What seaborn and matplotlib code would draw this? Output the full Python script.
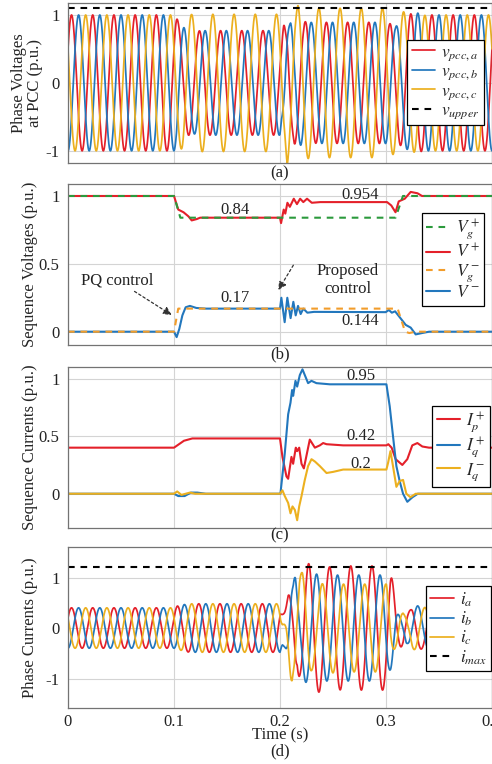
import numpy as np
import matplotlib
matplotlib.use("Agg")
import matplotlib.pyplot as plt
import seaborn as sns

# ---- (b) sequence voltages ----
vg_pos_t = [0, 0.1, 0.106, 0.309, 0.316, 0.4]
vg_pos = [1.0, 1.0, 0.84, 0.84, 1.0, 1.0]

v_pos_t = [0, 0.1, 0.104, 0.109, 0.1136, 0.1167, 0.1215, 0.1246,
           0.2, 0.201, 0.2035, 0.205, 0.207, 0.2093, 0.213, 0.216, 0.219, 0.222, 0.2255, 0.23, 0.238,
           0.301, 0.305, 0.309, 0.312, 0.3177, 0.3233, 0.3297, 0.334, 0.4]
v_pos = [1.0, 1.0, 0.9, 0.88, 0.85, 0.82, 0.83, 0.84,
         0.84, 0.80, 0.90, 0.87, 0.95, 0.92, 0.98, 0.94, 0.98, 0.955, 0.98, 0.95, 0.955,
         0.955, 0.93, 0.88, 0.96, 0.98, 1.03, 1.02, 1.0, 1.0]

vg_neg_t = [0, 0.1, 0.104, 0.311, 0.318, 0.322, 0.328, 0.4]
vg_neg = [0, 0, 0.17, 0.17, 0, -0.01, 0, 0]

v_neg_t = [0, 0.1, 0.1025, 0.105, 0.1079, 0.111, 0.115, 0.121, 0.13,
           0.2, 0.2013, 0.2044, 0.2069, 0.21, 0.2126, 0.2148, 0.217, 0.2195, 0.222, 0.2258, 0.232,
           0.2997, 0.3027, 0.3055, 0.3086, 0.3136, 0.3186, 0.3233, 0.328, 0.334, 0.3407, 0.4]
v_neg = [0, 0, -0.04, 0.02, 0.12, 0.18, 0.19, 0.175, 0.17,
         0.17, 0.25, 0.07, 0.25, 0.10, 0.22, 0.12, 0.19, 0.13, 0.17, 0.14, 0.146,
         0.144, 0.16, 0.14, 0.15, 0.10, 0.05, 0.03, -0.02, -0.01, 0, 0]

# ---- (c) sequence currents ----
ip_pos_t = [0, 0.1, 0.1094, 0.1173,
            0.2, 0.2023, 0.2061, 0.2077, 0.2108, 0.2124, 0.2149, 0.2162, 0.2181, 0.2203, 0.2225,
            0.2281, 0.2329, 0.2376, 0.2407, 0.2439, 0.2596,
            0.3004, 0.3022, 0.3053, 0.3091, 0.3154, 0.3201, 0.3248, 0.3296, 0.3343, 0.3406, 0.4]
ip_pos = [0.4, 0.4, 0.46, 0.48,
          0.48, 0.32, 0.15, 0.13, 0.32, 0.26, 0.40, 0.37, 0.40, 0.26, 0.22,
          0.47, 0.40, 0.42, 0.44, 0.43, 0.42,
          0.42, 0.43, 0.40, 0.30, 0.25, 0.30, 0.42, 0.44, 0.41, 0.40, 0.40]

iq_pos_t = [0, 0.1, 0.104, 0.11, 0.116, 0.122, 0.13,
            0.2004, 0.2045, 0.2077, 0.2099, 0.2114, 0.2124, 0.2146, 0.2162, 0.2187, 0.2212,
            0.2234, 0.2265, 0.2297, 0.2344, 0.247,
            0.3004, 0.3035, 0.3066, 0.3098, 0.3129, 0.3161, 0.3201, 0.325, 0.33, 0.4]
iq_pos = [0, 0, -0.02, -0.02, 0.01, 0.01, 0,
          0, 0.35, 0.69, 0.79, 0.90, 0.85, 0.98, 0.93, 1.03, 1.08,
          1.03, 0.96, 0.98, 0.96, 0.95,
          0.95, 0.76, 0.50, 0.24, 0.11, 0.0, -0.07, -0.03, 0.0, 0.0]

iq_neg_t = [0, 0.1, 0.103, 0.107, 0.115, 0.12,
            0.2, 0.2023, 0.2045, 0.2077, 0.2099, 0.2118, 0.214, 0.2162, 0.2181, 0.2203, 0.2234,
            0.2265, 0.2297, 0.2329, 0.2376, 0.2439, 0.2502, 0.2596,
            0.3004, 0.302, 0.3042, 0.3066, 0.3098, 0.3129, 0.3161, 0.3192, 0.323, 0.328, 0.4]
iq_neg = [0, 0, 0.02, -0.01, 0.01, 0,
          0, 0.03, -0.02, -0.08, -0.17, -0.11, -0.14, -0.23, -0.11, -0.02, 0.12,
          0.24, 0.30, 0.28, 0.24, 0.18, 0.19, 0.21,
          0.21, 0.27, 0.37, 0.24, 0.06, 0.11, 0.12, 0.0, -0.03, 0.0, 0.0]

v_upper = 1.1
i_max = 1.2
f_grid = 50.0

x_ticks = [0, 0.1, 0.2, 0.3, 0.4]
x_ticklabels = ["0", "0.1", "0.2", "0.3", "0.4"]

RED = "#e4202a"
BLUE = "#2277bd"
YELLOW = "#ecb01f"
GREEN = "#2b9a3c"
ORANGE = "#f29d2b"

# phase waveforms built from the sequence components above
t = np.linspace(0, 0.4, 8001)
wt = 2 * np.pi * f_grid * t
th = np.deg2rad([0, 120, 240])
vp = np.interp(t, v_pos_t, v_pos)
vn = np.interp(t, v_neg_t, v_neg)
ipp = np.interp(t, ip_pos_t, ip_pos)
iqp = np.interp(t, iq_pos_t, iq_pos)
iqn = np.interp(t, iq_neg_t, iq_neg)
v_phase = [vp * np.sin(wt + np.pi / 6 - k) + vn * np.sin(wt - np.pi / 2 + k) for k in th]
i_phase = [ipp * np.sin(wt + np.pi / 6 - k) - iqp * np.cos(wt + np.pi / 6 - k)
           + iqn * np.sin(wt + np.deg2rad(-9) + k) for k in th]

sns.set_theme(style="whitegrid")
plt.rcParams["font.family"] = ["Liberation Serif", "DejaVu Serif"]
plt.rcParams["mathtext.fontset"] = "stix"
plt.rcParams["axes.unicode_minus"] = False

fig = plt.figure(figsize=(4.92, 7.64), dpi=100)
left, width = 0.1382, 0.8618
axa = fig.add_axes([left, 0.7866, width, 0.2098])
axb = fig.add_axes([left, 0.5488, width, 0.2103])
axc = fig.add_axes([left, 0.3085, width, 0.2111])
axd = fig.add_axes([left, 0.0729, width, 0.2115])

LW = 1.25
dash = (0, (3.2, 2.8))

# (a)
for y, c, lab in zip(v_phase, [RED, BLUE, YELLOW],
                     [r"$v_{pcc,a}$", r"$v_{pcc,b}$", r"$v_{pcc,c}$"]):
    sns.lineplot(x=t, y=y, ax=axa, color=c, lw=LW, label=lab)
axa.axhline(v_upper, color="black", lw=1.5, ls=dash, label=r"$v_{upper}$")
axa.set_ylim(-1.18, 1.18)
axa.set_yticks([-1, 0, 1])
axa.set_yticklabels(["-1", "0", "1"])
axa.set_ylabel("Phase Voltages\nat PCC (p.u.)", linespacing=1.05)

# (b)
sns.lineplot(x=v_pos_t, y=v_pos, ax=axb, color=RED, lw=1.5, label=r"$V^+$")
sns.lineplot(x=v_neg_t, y=v_neg, ax=axb, color=BLUE, lw=1.5, label=r"$V^-$")
sns.lineplot(x=vg_pos_t, y=vg_pos, ax=axb, color=GREEN, lw=1.5, ls=dash, label=r"$V_g^+$")
sns.lineplot(x=vg_neg_t, y=vg_neg, ax=axb, color=ORANGE, lw=1.5, ls=dash, label=r"$V_g^-$")
axb.set_ylim(-0.096, 1.088)
axb.set_yticks([0, 0.5, 1])
axb.set_yticklabels(["0", "0.5", "1"])
axb.set_ylabel("Sequence Voltages (p.u.)")

# (c)
sns.lineplot(x=ip_pos_t, y=ip_pos, ax=axc, color=RED, lw=1.5, label=r"$I_p^+$")
sns.lineplot(x=iq_pos_t, y=iq_pos, ax=axc, color=BLUE, lw=1.5, label=r"$I_q^+$")
sns.lineplot(x=iq_neg_t, y=iq_neg, ax=axc, color=YELLOW, lw=1.5, label=r"$I_q^-$")
axc.set_ylim(-0.30, 1.10)
axc.set_yticks([0, 0.5, 1])
axc.set_yticklabels(["0", "0.5", "1"])
axc.set_ylabel("Sequence Currents (p.u.)")

# (d)
for y, c, lab in zip(i_phase, [RED, BLUE, YELLOW], [r"$i_a$", r"$i_b$", r"$i_c$"]):
    sns.lineplot(x=t, y=y, ax=axd, color=c, lw=LW, label=lab)
axd.axhline(i_max, color="black", lw=1.5, ls=dash, label=r"$i_{max}$")
axd.set_ylim(-1.59, 1.61)
axd.set_yticks([-1, 0, 1])
axd.set_yticklabels(["-1", "0", "1"])
axd.set_ylabel("Phase Currents (p.u.)")
axd.set_xlabel("Time (s)")
axd.xaxis.set_label_coords(0.5, -0.118)

fs = 12
for ax in [axa, axb, axc, axd]:
    ax.set_xlim(0, 0.4)
    ax.set_xticks(x_ticks)
    ax.grid(True, color="#d4d4d4", lw=0.8)
    for s in ax.spines.values():
        s.set_color("0.45")
        s.set_linewidth(0.9)
    ax.tick_params(length=0, labelsize=fs, pad=6, colors="#222222")
    ax.yaxis.label.set_size(fs)
    ax.xaxis.label.set_size(fs)
    ax.yaxis.set_label_coords(-0.07, 0.5)
axa.yaxis.set_label_coords(-0.058, 0.5)
for ax in [axa, axb, axc]:
    ax.tick_params(labelbottom=False)
axd.set_xticklabels(x_ticklabels)
axd.tick_params(axis="x", pad=4)

# legends
leg_kw = dict(fontsize=12.5, frameon=True, fancybox=False, framealpha=1, edgecolor="black",
              labelspacing=0.05, handlelength=1.35, handletextpad=0.35, borderpad=0.25,
              borderaxespad=0.0)
h, l = axa.get_legend_handles_labels()
axa.legend(h, l, loc="center right", bbox_to_anchor=(0.981, 0.502), **leg_kw)
h, l = axb.get_legend_handles_labels()
order = [2, 0, 3, 1]
axb.legend([h[i] for i in order], [l[i] for i in order], loc="center right",
           bbox_to_anchor=(0.981, 0.53), **leg_kw)
h, l = axc.get_legend_handles_labels()
axc.legend(h, l, loc="center right", bbox_to_anchor=(0.995, 0.507), **leg_kw)
h, l = axd.get_legend_handles_labels()
axd.legend(h, l, loc="center right", bbox_to_anchor=(0.998, 0.494), **leg_kw)
for ax in [axa, axb, axc, axd]:
    ax.get_legend().get_frame().set_linewidth(0.9)

# annotations
txt = dict(fontsize=fs, color="#222222", ha="center", va="center")
axb.text(0.158, 0.90, "0.84", **txt)
axb.text(0.276, 1.01, "0.954", **txt)
axb.text(0.158, 0.25, "0.17", **txt)
axb.text(0.276, 0.08, "0.144", **txt)
arrow = dict(arrowstyle="-|>", color="#333333", lw=0.9, ls=(0, (2, 2)),
             shrinkA=0, shrinkB=0, mutation_scale=12)
axb.annotate("PQ control", xy=(0.0978, 0.123), xytext=(0.046, 0.38),
             arrowprops=arrow, **txt)
axb.annotate("", xy=(0.1984, 0.307), xytext=(0.2126, 0.49), arrowprops=arrow)
axb.text(0.264, 0.38, "Proposed\ncontrol", linespacing=1.15, **txt)
axc.text(0.276, 1.02, "0.95", **txt)
axc.text(0.276, 0.50, "0.42", **txt)
axc.text(0.276, 0.26, "0.2", **txt)

# panel letters
axa.text(0.5, -0.062, "(a)", transform=axa.transAxes, **txt)
axb.text(0.5, -0.058, "(b)", transform=axb.transAxes, **txt)
axc.text(0.5, -0.046, "(c)", transform=axc.transAxes, **txt)
axd.text(0.5, -0.265, "(d)", transform=axd.transAxes, **txt)

fig.savefig("out.png", dpi=100)
